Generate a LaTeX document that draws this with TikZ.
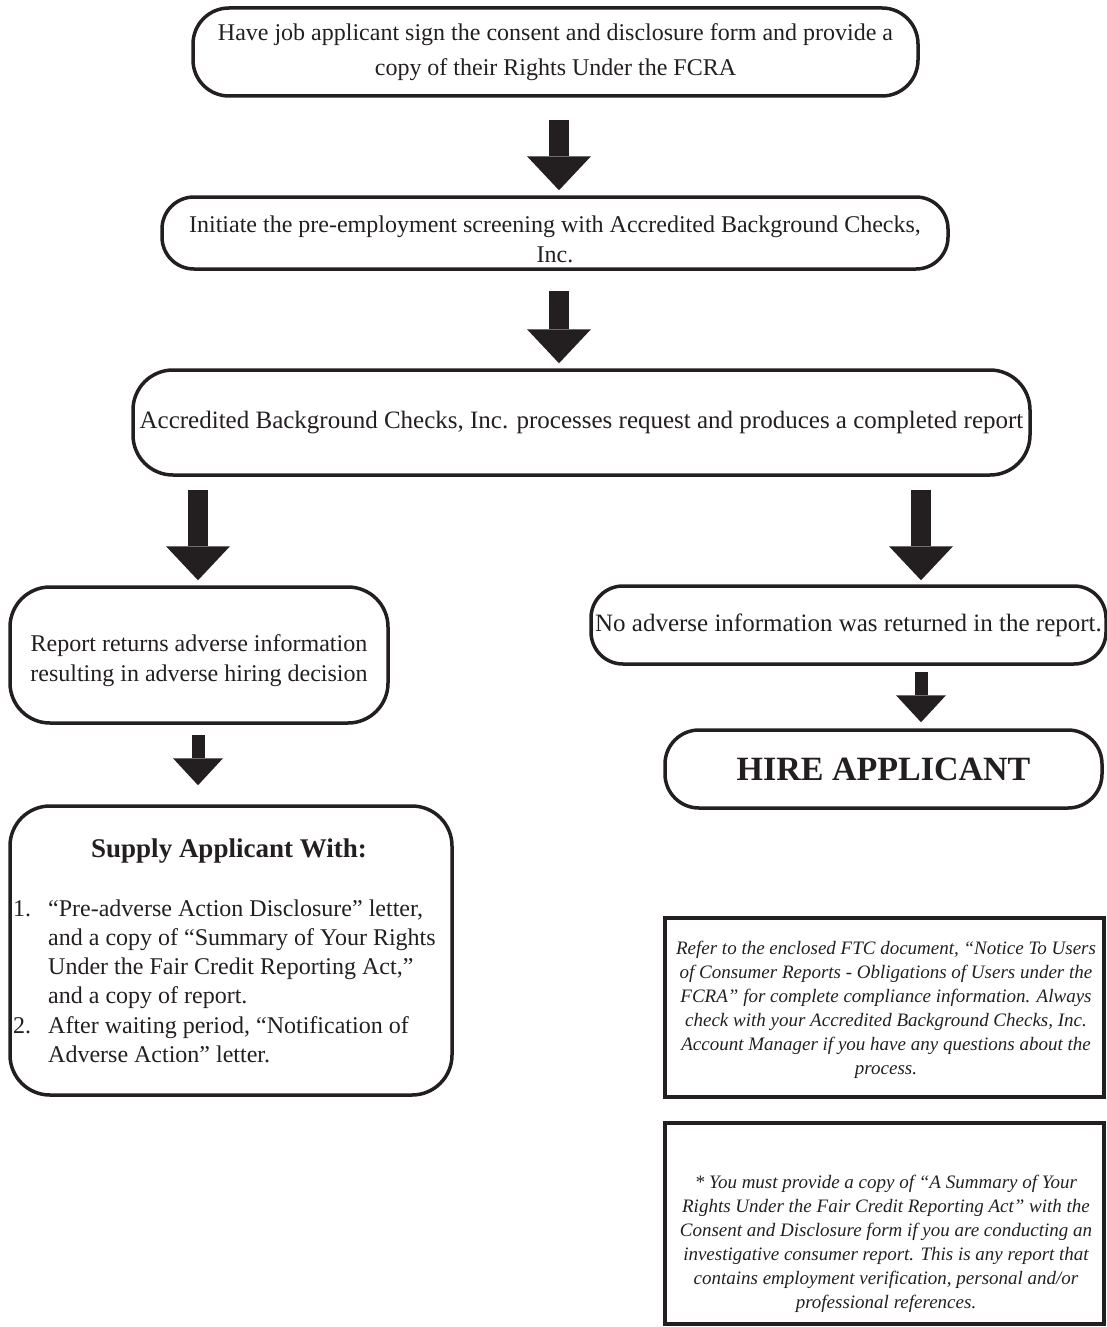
\documentclass[tikz,border=0pt]{standalone}
\usepackage{fontspec}
\setmainfont{Liberation Serif}
\usetikzlibrary{arrows.meta,calc}
\definecolor{ink}{HTML}{231F20}
\begin{document}
\begin{tikzpicture}[x=1pt,y=-1pt,
  flow/.style={draw=ink,line width=3.5pt,rounded corners=#1,align=center,inner sep=0pt,text=ink,font=\fontsize{24}{30}\selectfont},
  flow/.default=32pt,
  notebox/.style={draw=ink,line width=4pt,inner sep=0pt},
  notetext/.style={align=center,inner sep=0pt,text=ink,font=\fontsize{19}{24}\selectfont\itshape},
  listtext/.style={align=left,inner sep=0pt,text=ink,anchor=base west,font=\fontsize{24}{29}\selectfont},
  bigarrow/.style={draw=ink,line width=20pt,-{Triangle[width=64pt,length=34pt,line width=0pt]}},
  smallarrow/.style={draw=ink,line width=13pt,-{Triangle[width=50pt,length=27pt,line width=0pt]}}
]
\useasboundingbox (0,0) rectangle (1107,1327);

% flow boxes
\node[flow=36pt,minimum width=725pt,minimum height=88pt] (b1) at (555.5,52)
  {Have job applicant sign the consent and disclosure form and provide a\\[5pt] copy of their Rights Under the FCRA};
\node[flow=32pt,minimum width=786pt,minimum height=72pt] (b2) at (555,233)
  {\rule{0pt}{30pt}Initiate the pre-employment screening with Accredited Background Checks,\\ Inc.};
\node[flow=40pt,minimum width=897pt,minimum height=105pt,font=\fontsize{25}{30}\selectfont] (b3) at (581.5,422.5)
  {Accredited Background Checks, Inc. processes request and produces a completed report};
\node[flow=40pt,minimum width=378pt,minimum height=136pt] (b4) at (199,655)
  {\rule{0pt}{28pt}Report returns adverse information\\ resulting in adverse hiring decision};
\node[flow=32pt,minimum width=515pt,minimum height=78pt,font=\fontsize{25}{30}\selectfont] (b5) at (848.5,625)
  {No adverse information was returned in the report.};
\node[flow=34pt,minimum width=437pt,minimum height=78pt,font=\fontsize{34}{40}\selectfont\bfseries] (hire) at (883.5,769)
  {HIRE APPLICANT};
\node[flow=40pt,minimum width=442pt,minimum height=289pt] (supply) at (231,950.5) {};

% supply box contents
\node[inner sep=0pt,text=ink,anchor=base,font=\fontsize{27}{32}\selectfont\bfseries] (stitle) at (229,857) {Supply Applicant With:};
\node[listtext] (n1) at (13,916) {1.};
\node[listtext] (i1) at (48,1003) {“Pre-adverse Action Disclosure” letter,\\ and a copy of “Summary of Your Rights\\ Under the Fair Credit Reporting Act,”\\ and a copy of report.};
\node[listtext] (n2) at (13,1033) {2.};
\node[listtext] (i2) at (48,1062) {After waiting period, “Notification of\\ Adverse Action” letter.};

% notes
\node[notebox,minimum width=439pt,minimum height=179pt] (note1) at (884.5,1007.5) {};
\node[notetext] (note1t) at (886,1010) {Refer to the enclosed FTC document, “Notice To Users\\ of Consumer Reports - Obligations of Users under the\\ FCRA” for complete compliance information. Always\\ check with your Accredited Background Checks, Inc.\\ Account Manager if you have any questions about the\\ process.};
\node[notebox,minimum width=439pt,minimum height=201pt] (note2) at (884.5,1223.5) {};
\node[notetext] (note2t) at (886,1244) {* You must provide a copy of “A Summary of Your\\ Rights Under the Fair Credit Reporting Act” with the\\ Consent and Disclosure form if you are conducting an\\ investigative consumer report. This is any report that\\ contains employment verification, personal and/or\\ professional references.};

% block arrows
\draw[bigarrow] ($(b1.south)+(3.5,22)$) -- ($(b2.north)+(4,-5)$);
\draw[bigarrow] ($(b2.south)+(4,20)$) -- ($(b3.north)+(-22.5,-5)$);
\draw[bigarrow] ($(b3.south -| b4.north)+(-1,13)$) -- ($(b4.north)+(-1,-5)$);
\draw[bigarrow] ($(b3.south)+(339.5,13)$) -- ($(b5.north)+(72.5,-4)$);
\draw[smallarrow] ($(b4.south)+(-1,10)$) -- ($(supply.north)+(-33,-19)$);
\draw[smallarrow] ($(b5.south)+(72.5,6)$) -- ($(hire.north)+(37.5,-6)$);
\end{tikzpicture}
\end{document}
